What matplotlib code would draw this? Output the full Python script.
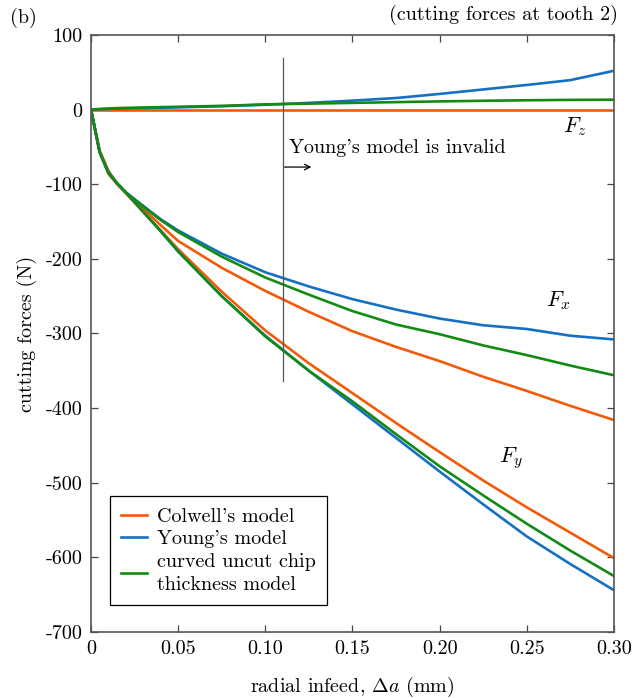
import numpy as np
import matplotlib
matplotlib.use('Agg')
import matplotlib.pyplot as plt

plt.rcParams['font.family'] = 'cmr10'
plt.rcParams['mathtext.fontset'] = 'cm'
plt.rcParams['axes.unicode_minus'] = False
plt.rcParams['axes.formatter.use_mathtext'] = True

# radial infeed (mm)
da = [0, 0.005, 0.01, 0.015, 0.02, 0.03, 0.04, 0.05, 0.075, 0.1, 0.125, 0.15, 0.175,
      0.2, 0.225, 0.25, 0.275, 0.3]

# Fz
fz_colwell = [0]*18
fz_young = [0, 0.5, 1, 1.3, 1.5, 2, 2.5, 3, 4.5, 6.5, 9, 12, 15.5, 21, 27, 33, 39.5, 52]
fz_curved = [0, 0.8, 1.5, 2, 2.3, 2.8, 3.3, 3.8, 5, 7, 8, 9, 10, 11, 11.8, 12.5, 13, 13.3]

# Fx
fx_colwell = [0, -55, -82, -99, -111, -133, -155, -176, -212, -243, -271, -297, -318,
              -337, -358, -377, -397, -416]
fx_young = [0, -57, -84, -99, -111, -129, -147, -162, -193, -218, -237, -254, -268,
            -280, -289, -294, -303, -308]
fx_curved = [0, -57, -84, -99, -111, -130, -148, -164, -197, -225, -248, -270, -288,
             -301, -316, -329, -343, -356]

# Fy
fy_colwell = [0, -57, -86, -100, -112, -137, -162, -187, -244, -296, -340, -380, -420,
              -459, -497, -533, -567, -601]
fy_young = [0, -57, -85, -99, -111, -137, -163, -190, -250, -303, -350, -395, -440,
            -485, -529, -572, -609, -644]
fy_curved = [0, -57, -85, -99, -111, -137, -163, -190, -250, -304, -350, -391, -435,
             -478, -517, -555, -591, -625]

c_col = '#f25a0a'
c_you = '#1570c2'
c_cur = '#138a13'
lw = 1.9

fig = plt.figure(figsize=(6.38, 6.98), dpi=100)
ax = fig.add_axes([0.1426, 0.0946, 0.8197, 0.8553])

ax.plot(da, fz_colwell, color=c_col, lw=lw, label="Colwell's model")
ax.plot(da, fz_young, color=c_you, lw=lw, label="Young's model")
ax.plot(da, fz_curved, color=c_cur, lw=lw, label='curved uncut chip\nthickness model')
for ys, c in [(fx_colwell, c_col), (fx_young, c_you), (fx_curved, c_cur),
              (fy_colwell, c_col), (fy_young, c_you), (fy_curved, c_cur)]:
    ax.plot(da, ys, color=c, lw=lw)

ax.plot([0.11, 0.11], [69, -364], color='#555555', lw=0.9)
ax.annotate('', xy=(0.128, -77), xytext=(0.1095, -77),
            arrowprops=dict(arrowstyle='->', color='black', lw=0.9))
ax.text(0.1135, -58, "Young's model is invalid", fontsize=14.5)

ax.text(0.271, -30, '$F_z$', fontsize=16)
ax.text(0.261, -263, '$F_x$', fontsize=16)
ax.text(0.234, -473, '$F_y$', fontsize=16)

ax.set_xlim(0, 0.3)
ax.set_ylim(-700, 100)
xt = [0, 0.05, 0.10, 0.15, 0.20, 0.25, 0.30]
ax.set_xticks(xt)
ax.set_xticklabels(['0', '0.05', '0.10', '0.15', '0.20', '0.25', '0.30'])
yt = list(range(-700, 101, 100))
ax.set_yticks(yt)
ax.set_yticklabels([str(v) for v in yt])
ax.tick_params(direction='in', top=True, right=True, labelsize=14.5, length=5,
               color='#444444', width=0.9, pad=6)
for s in ax.spines.values():
    s.set_color('#555555')
    s.set_linewidth(1.2)

ax.set_xlabel(r'radial infeed, $\Delta a$ (mm)', fontsize=14.5, labelpad=12)
ax.set_ylabel('cutting forces (N)', fontsize=14.5, labelpad=6)

leg = ax.legend(loc='lower left', bbox_to_anchor=(0.036, 0.045), fontsize=14.5,
                fancybox=False, edgecolor='black', framealpha=1,
                handlelength=1.3, handletextpad=0.5, borderpad=0.55,
                labelspacing=0.22, borderaxespad=0)
leg.get_frame().set_linewidth(0.9)
for t in leg.get_texts():
    t.set_linespacing(1.4)

fig.text(10/638, 1 - 18/698, '(b)', fontsize=14.5, va='center')
fig.text(618/638, 1 - 15/698, '(cutting forces at tooth 2)', fontsize=14.5,
         va='center', ha='right')

fig.savefig('out.png', dpi=100)
